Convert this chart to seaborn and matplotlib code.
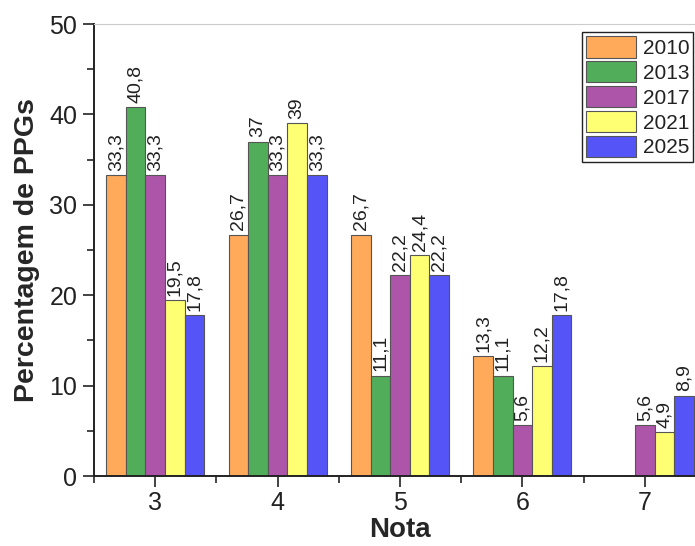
import matplotlib
matplotlib.use("Agg")
import matplotlib.pyplot as plt
from matplotlib.ticker import MultipleLocator, FixedLocator
import seaborn as sns
import pandas as pd
import numpy as np

notas = ["3", "4", "5", "6", "7"]
anos = ["2010", "2013", "2017", "2021", "2025"]
v2010 = [33.3, 26.7, 26.7, 13.3, np.nan]
v2013 = [40.8, 37.0, 11.1, 11.1, np.nan]
v2017 = [33.3, 33.3, 22.2, 5.6, 5.6]
v2021 = [19.5, 39.0, 24.4, 12.2, 4.9]
v2025 = [17.8, 33.3, 22.2, 17.8, 8.9]
cores = ["#FFA95A", "#52AD5B", "#AD55A8", "#FFFF73", "#5555F7"]

series = [v2010, v2013, v2017, v2021, v2025]
rows = []
for ano, vals in zip(anos, series):
    for n, v in zip(notas, vals):
        rows.append({"Nota": n, "Ano": ano, "Valor": v})
df = pd.DataFrame(rows)

sns.set_theme(style="white")
plt.rcParams["font.family"] = ["Liberation Sans", "DejaVu Sans"]
plt.rcParams["text.color"] = "#222222"

fig = plt.figure(figsize=(6.95, 5.46), dpi=100)
ax = fig.add_axes([94 / 695, 70 / 546, 612 / 695, 452 / 546])

sns.barplot(data=df.dropna(), x="Nota", y="Valor", hue="Ano", order=notas,
            hue_order=anos, palette=cores, errorbar=None, width=0.8,
            edgecolor="#555555", linewidth=0.8, saturation=1, ax=ax)

for cont in ax.containers:
    labels = [f"{v:g}".replace(".", ",") for v in cont.datavalues]
    ax.bar_label(cont, labels=labels, rotation=90, padding=3, fontsize=14,
                 color="#222222")

ax.set_xlim(-0.5, 4.5)
ax.set_ylim(0, 50)
ax.yaxis.set_major_locator(MultipleLocator(10))
ax.yaxis.set_minor_locator(MultipleLocator(5))
ax.xaxis.set_minor_locator(FixedLocator(np.arange(-0.5, 4.6, 1.0)))

ax.set_xlabel("Nota", fontsize=20, fontweight="bold", labelpad=1)
ax.set_ylabel("Percentagem de PPGs", fontsize=20.5, fontweight="bold", labelpad=7)

ax.tick_params(axis="both", which="major", direction="out", length=8,
               width=1.2, labelsize=18, colors="#222222", pad=4,
               bottom=True, left=True)
ax.tick_params(axis="x", which="major", pad=3)
ax.tick_params(axis="both", which="minor", direction="out", length=5,
               width=1.2, bottom=True, left=True)

for s in ["left", "bottom"]:
    ax.spines[s].set_color("#222222")
    ax.spines[s].set_linewidth(1.4)
ax.spines["top"].set_color("#cccccc")
ax.spines["top"].set_linewidth(0.8)
ax.spines["right"].set_visible(False)

leg = ax.legend(loc="upper left", bbox_to_anchor=(0.797, 0.982),
                borderaxespad=0, fontsize=15, frameon=True, fancybox=False,
                framealpha=1, edgecolor="#222222", handlelength=2.4,
                handleheight=1.2, labelspacing=0.15, handletextpad=0.32,
                borderpad=0.2, title=None)
leg.get_frame().set_linewidth(1.0)

fig.savefig("out.png", dpi=100)
